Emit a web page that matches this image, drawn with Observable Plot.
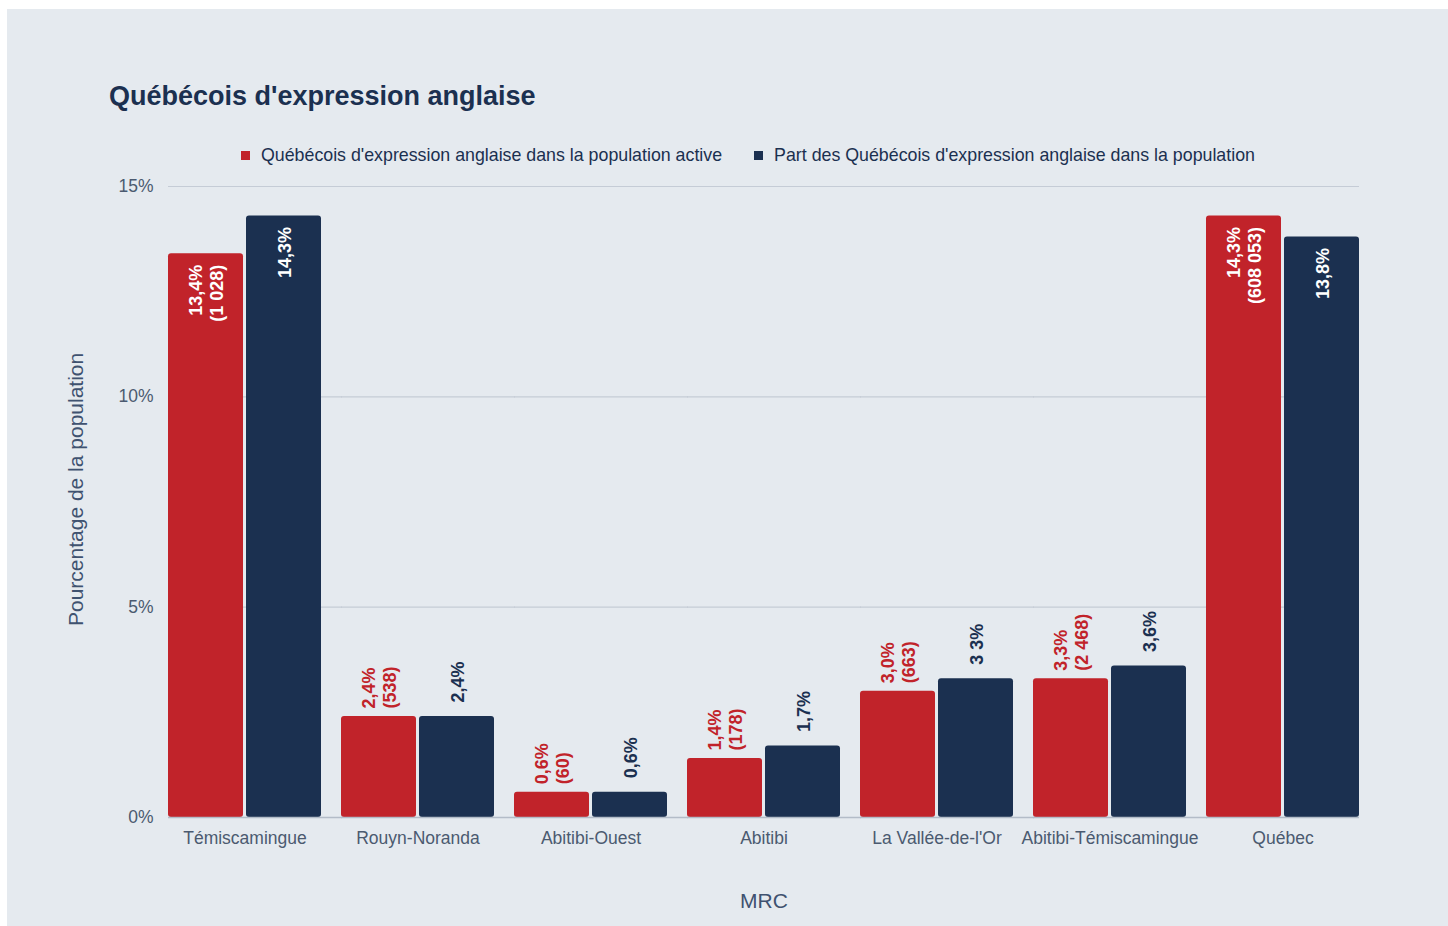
<!DOCTYPE html>
<html>
<head>
<meta charset="utf-8">
<script src="https://cdn.jsdelivr.net/npm/d3@7"></script>
<script src="https://cdn.jsdelivr.net/npm/@observablehq/plot@0.6"></script>
<style>
  body { margin: 0; background: #ffffff; font-family: "Liberation Sans", Arial, Helvetica, sans-serif; }
  #panel { position: absolute; left: 7px; top: 9px; width: 1441px; height: 917px; background: #e5eaef; overflow: hidden; }
  #title { position: absolute; left: 102px; top: 72px; font-size: 27px; line-height: 30px; font-weight: bold; color: #1b3050; }
  #legend { position: absolute; left: 234px; top: 136px; display: flex; gap: 32px; font-size: 17.8px; line-height: 20px; color: #1b3050; white-space: nowrap; }
  .item { display: flex; align-items: center; }
  .sw { width: 9px; height: 9px; margin-right: 11px; }
  #chart { position: absolute; left: 0; top: 161px; }
</style>
</head>
<body>
<div id="panel">
  <div id="title">Québécois d'expression anglaise</div>
  <div id="legend"></div>
  <div id="chart"></div>
</div>
<script>
const categories = ["Témiscamingue", "Rouyn-Noranda", "Abitibi-Ouest", "Abitibi", "La Vallée-de-l'Or", "Abitibi-Témiscamingue", "Québec"];
const seriesNames = [
  "Québécois d'expression anglaise dans la population active",
  "Part des Québécois d'expression anglaise dans la population"
];
const seriesColors = ["#c1232a", "#1b3050"];
const activeValues = [13.4, 2.4, 0.6, 1.4, 3.0, 3.3, 14.3];
const activeLabels = ["13,4%\n(1 028)", "2,4%\n(538)", "0,6%\n(60)", "1,4%\n(178)", "3,0%\n(663)", "3,3%\n(2 468)", "14,3%\n(608 053)"];
const populationValues = [14.3, 2.4, 0.6, 1.7, 3.3, 3.6, 13.8];
const populationLabels = ["14,3%", "2,4%", "0,6%", "1,7%", "3 3%", "3,6%", "13,8%"];
const yTicks = [0, 5, 10, 15];
const yTitle = "Pourcentage de la population";
const xTitle = "MRC";

const data = [];
categories.forEach((c, i) => {
  data.push({cat: c, series: seriesNames[0], value: activeValues[i], label: activeLabels[i], lines: 2});
  data.push({cat: c, series: seriesNames[1], value: populationValues[i], label: populationLabels[i], lines: 1});
});

// grid rows per facet (so lines bridge the gaps between groups)
const gridRows = [];
categories.forEach((c, i) => yTicks.forEach(t => gridRows.push({cat: c, tick: t, last: i === categories.length - 1})));

// legend
const legend = document.getElementById("legend");
seriesNames.forEach((s, i) => {
  const it = document.createElement("div");
  it.className = "item";
  const sw = document.createElement("span");
  sw.className = "sw";
  sw.style.background = seriesColors[i];
  const t = document.createElement("span");
  t.textContent = s;
  it.appendChild(sw); it.appendChild(t);
  legend.appendChild(it);
});

const inside = d => d.value > 10;
const labelCommon = {fx: "cat", x: "series", y: "value", text: "label", rotate: -90, lineAnchor: "middle", lineHeight: 1.15, fontWeight: "bold", fontSize: 18};
const gridStyle = {stroke: "#c5ccd6", strokeWidth: 1.2};
const baseStyle = {stroke: "#b3bcc8", strokeWidth: 1.5};

const chart = Plot.plot({
  width: 1441,
  height: 756,
  marginLeft: 161,
  marginRight: 88,
  marginTop: 16,
  marginBottom: 109,
  style: {background: "transparent", fontFamily: "'Liberation Sans', Arial, Helvetica, sans-serif", fontSize: "17.5px", color: "#4b5a70", overflow: "visible"},
  fx: {domain: categories, paddingInner: 0.115, paddingOuter: 0, label: null, tickSize: 0, tickPadding: 14},
  x: {domain: seriesNames, paddingInner: 0.04, paddingOuter: 0, axis: null},
  y: {domain: [0, 15], ticks: yTicks, tickFormat: d => d + "%", tickSize: 0, tickPadding: 15, label: null},
  color: {domain: seriesNames, range: seriesColors},
  marks: [
    Plot.ruleY(gridRows.filter(d => d.tick > 0 && !d.last), {fx: "cat", y: "tick", insetRight: -21, ...gridStyle}),
    Plot.ruleY(gridRows.filter(d => d.tick > 0 && d.last), {fx: "cat", y: "tick", ...gridStyle}),
    Plot.barY(data, {fx: "cat", x: "series", y: "value", fill: "series", rx: 3}),
    Plot.ruleY(gridRows.filter(d => d.tick === 0 && !d.last), {fx: "cat", y: "tick", insetRight: -21, ...baseStyle}),
    Plot.ruleY(gridRows.filter(d => d.tick === 0 && d.last), {fx: "cat", y: "tick", ...baseStyle}),
    Plot.text(data.filter(inside), {...labelCommon, textAnchor: "end", fill: "white", dy: 11}),
    Plot.text(data.filter(d => !inside(d) && d.lines === 2), {...labelCommon, textAnchor: "start", fill: "series", dy: -8}),
    Plot.text(data.filter(d => !inside(d) && d.lines === 1), {...labelCommon, textAnchor: "start", fill: "series", dy: -14}),
    Plot.text([yTitle], {facet: "super", frameAnchor: "left", rotate: -90, dx: -92, dy: 124, fontSize: 21, fill: "#3f5270"}),
    Plot.text([xTitle], {facet: "super", frameAnchor: "bottom", dy: 90, fontSize: 21, fill: "#3f5270"})
  ]
});
document.getElementById("chart").appendChild(chart);
</script>
</body>
</html>
